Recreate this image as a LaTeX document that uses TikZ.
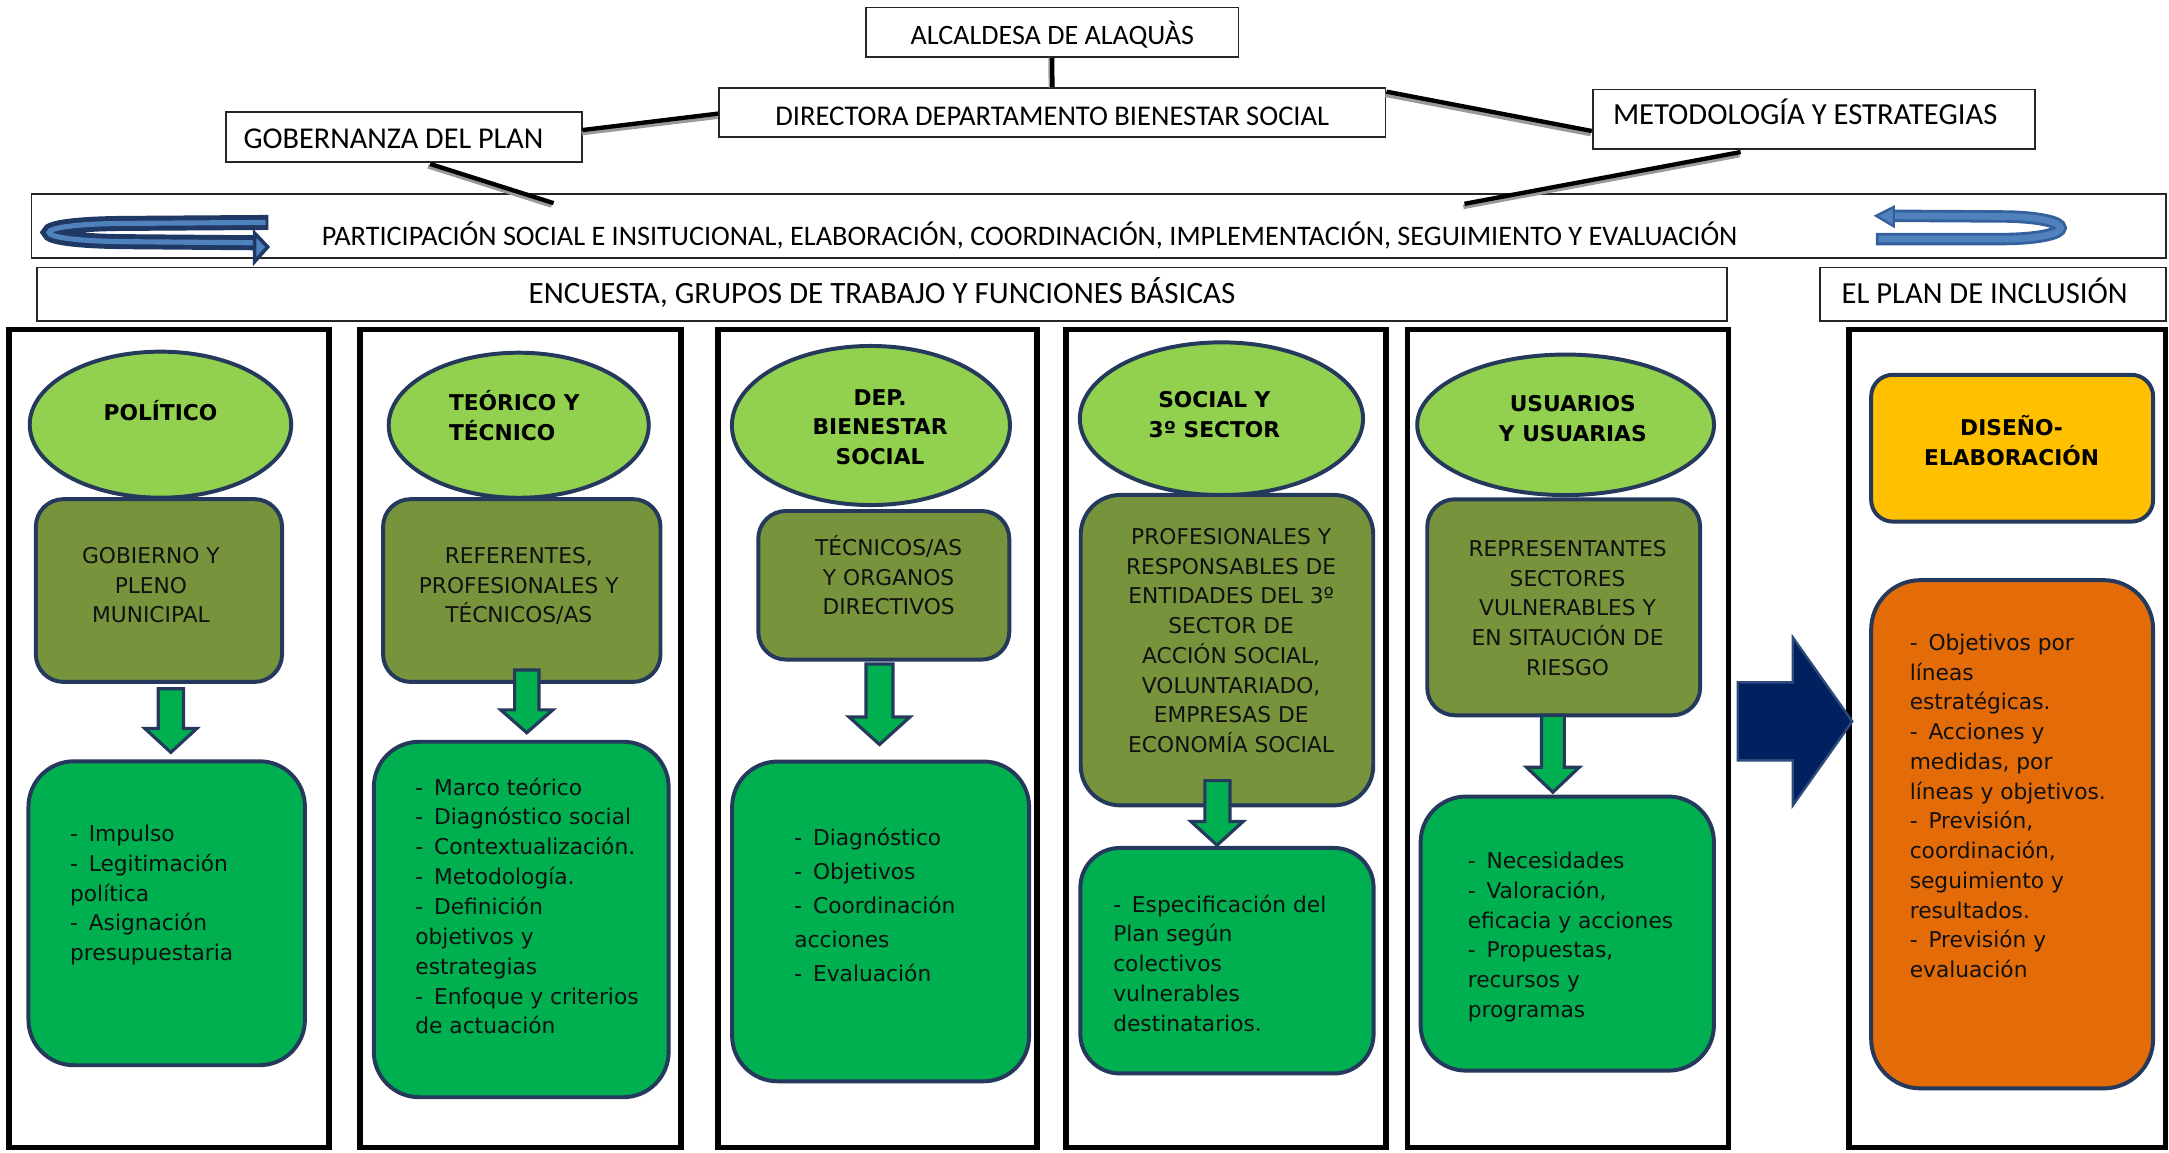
\documentclass[tikz,border=0pt]{standalone}
\usepackage{fontspec}
\setmainfont{Carlito}
\newfontfamily\vfont{DejaVu Sans}
\usetikzlibrary{calc,shapes.geometric}
\definecolor{lgreen}{HTML}{92D050}
\definecolor{olivec}{HTML}{77933C}
\definecolor{bgreen}{HTML}{00B050}
\definecolor{navyb}{HTML}{24395C}
\definecolor{yel}{HTML}{FFC000}
\definecolor{orng}{HTML}{E36C09}
\definecolor{darrc}{HTML}{002060}
\definecolor{darrb}{HTML}{2C4A7A}
\definecolor{ablue}{HTML}{4F81BD}
\definecolor{ablued}{HTML}{1F3864}
\definecolor{abluem}{HTML}{35609E}
\definecolor{txtc}{HTML}{111111}
\newcommand\dd{-\hspace{0.5em}}
\newcommand\fr{\rule{0pt}{11pt}}
\begin{document}
\begin{tikzpicture}[x=0.7pt,y=-0.7pt,
  topbox/.style={draw=black!85,line width=0.9pt,fill=white,inner sep=0pt},
  toptxt/.style={font=\fontsize{14.2}{17}\selectfont,inner sep=0pt,anchor=base,text=black},
  colbox/.style={draw=black,line width=2.9pt,inner sep=0pt},
  ell/.style={ellipse,draw=navyb,fill=lgreen,line width=2pt,inner sep=0pt},
  olbox/.style={rectangle,rounded corners=14pt,draw=navyb,fill=olivec,line width=2pt,inner sep=0pt},
  gbox/.style={rectangle,rounded corners=23pt,draw=navyb,fill=bgreen,line width=2pt,inner sep=0pt},
  btxt/.style={font=\vfont\bfseries\fontsize{11}{15}\selectfont,inner sep=0pt,anchor=north,align=center,text=black},
  otxt/.style={font=\vfont\fontsize{11}{15.05}\selectfont,inner sep=0pt,anchor=north,align=center,text=txtc},
  ltxt/.style={font=\vfont\fontsize{11}{15.1}\selectfont,inner sep=0pt,anchor=north west,align=left,text=txtc},
  conn/.style={line width=2.2pt,draw=black},
  shad/.style={line width=2.2pt,draw=black!40},
  blockdown/.style={draw=navyb,fill=bgreen,line width=1.6pt,line join=miter},
]
\useasboundingbox (0,0) rectangle (1568,833);

% ---------- top boxes ----------
\node[topbox,minimum width=188.5pt,minimum height=25pt] (alc) at (760.6,23.2) {};
\node[toptxt] (alct) at (760.7,32.2) {ALCALDESA DE ALAQUÀS};
\node[topbox,minimum width=337.2pt,minimum height=24.8pt] (dir) at (760.8,81.6) {};
\node[toptxt,font=\fontsize{14.45}{17}\selectfont] (dirt) at (760.7,91) {DIRECTORA DEPARTAMENTO BIENESTAR SOCIAL};
\node[topbox,minimum width=180pt,minimum height=25pt] (gob) at (291.9,99) {};
\node[toptxt,font=\fontsize{15.3}{18}\selectfont] (gobt) at (284.5,107) {GOBERNANZA DEL PLAN};
\node[topbox,minimum width=223.9pt,minimum height=30.2pt] (met) at (1311.3,86.2) {};
\node[toptxt,font=\fontsize{15.5}{18}\selectfont] (mett) at (1305,90.2) {METODOLOGÍA Y ESTRATEGIAS};
\node[topbox,minimum width=1080.2pt,minimum height=32.1pt] (part) at (794.4,163.4) {};
\node[toptxt,font=\fontsize{14.3}{17}\selectfont] (partt) at (744.3,177.6) {PARTICIPACIÓN SOCIAL E INSITUCIONAL, ELABORACIÓN, COORDINACIÓN, IMPLEMENTACIÓN, SEGUIMIENTO Y EVALUACIÓN};
\node[topbox,minimum width=855.3pt,minimum height=27pt] (enc) at (637.8,212.6) {};
\node[toptxt,font=\fontsize{15.7}{18}\selectfont] (enct) at (637.6,219.6) {ENCUESTA, GRUPOS DE TRABAJO Y FUNCIONES BÁSICAS};
\node[topbox,minimum width=175.3pt,minimum height=27pt] (plan) at (1440.8,212.6) {};
\node[toptxt,font=\fontsize{15.5}{18}\selectfont,anchor=base west] (plant) at (1331,219.5) {EL PLAN DE INCLUSIÓN};

% ---------- connectors ----------
\coordinate (a1) at (alc.south);
\coordinate (a2) at (dir.north);
\draw[shad] ($(a1)+(-1.2,0)$) -- ($(a2)+(-1.2,0)$);
\draw[conn] (a1) -- (a2);
\coordinate (b1) at ($(gob.east)+(0,-5)$);
\coordinate (b2) at ($(dir.west)+(0,0.5)$);
\draw[shad] ($(b1)+(-0.5,2.3)$) -- ($(b2)+(-0.5,2.3)$);
\draw[conn] (b1) -- (b2);
\coordinate (c1) at ($(dir.north east)+(0,3)$);
\coordinate (c2) at ($(met.west)+(0,8.5)$);
\draw[shad] ($(c1)+(-0.8,2.3)$) -- ($(c2)+(-0.8,2.3)$);
\draw[conn] (c1) -- (c2);
\coordinate (d1) at ($(gob.south)+(19,1)$);
\coordinate (d2) at ($(part.north west)+(378,7)$);
\draw[shad] ($(d1)+(-1.4,1.8)$) -- ($(d2)+(-1.4,1.8)$);
\draw[conn] (d1) -- (d2);
\coordinate (e1c) at ($(met.south)+(-53,1.5)$);
\coordinate (e2c) at ($(part.north west)+(1036.5,7.5)$);
\draw[shad] ($(e1c)+(-0.8,2.3)$) -- ($(e2c)+(-0.8,2.3)$);
\draw[conn] (e1c) -- (e2c);

% ---------- circular arrows ----------
\draw[ablued,line width=7.6pt] (194,160.8) -- (90,161.5) .. controls (17.3,162) and (17.3,174) .. (90,174.7) -- (184,175.5);
\draw[ablue,line width=2.6pt] (192,160.8) -- (90,161.5) .. controls (17.3,162) and (17.3,174) .. (90,174.7) -- (184,175.5);
\filldraw[fill=ablue,draw=ablued,line width=1.8pt,line join=miter] (184,168.5) -- (193.5,178.5) -- (184,189.2) -- cycle;

\draw[abluem,line width=6.3pt] (1368,156) -- (1450,156.5) .. controls (1502.7,157.5) and (1502.7,172) .. (1450,172.8) -- (1356,172.8);
\draw[ablue,line width=3.4pt] (1368,156) -- (1450,156.5) .. controls (1502.7,157.5) and (1502.7,172) .. (1450,172.8) -- (1358,172.8);
\filldraw[fill=ablue,draw=abluem,line width=1.2pt,line join=miter] (1369,149.6) -- (1356.3,156) -- (1369,163.6) -- cycle;

% ---------- columns ----------
\node[colbox,minimum width=162pt,minimum height=414pt] (col1) at (122.3,533.9) {};
\node[colbox,minimum width=162.5pt,minimum height=414pt] (col2) at (376.4,533.9) {};
\node[colbox,minimum width=161.3pt,minimum height=414pt] (col3) at (634.5,533.9) {};
\node[colbox,minimum width=161.8pt,minimum height=414pt] (col4) at (886.4,533.9) {};
\node[colbox,minimum width=162.5pt,minimum height=414pt] (col5) at (1133.5,533.9) {};
\node[colbox,minimum width=160.2pt,minimum height=414pt] (col6) at (1451.1,533.9) {};

% ---------- ellipses ----------
\node[ell,minimum width=132.3pt,minimum height=73.9pt] (el1) at (116,307) {};
\node[btxt] (el1t) at (116,287.7) {\fr POLÍTICO};
\node[ell,minimum width=131.6pt,minimum height=73.4pt] (el2) at (375,307.4) {};
\node[btxt,anchor=north west,align=left] (el2t) at (324.3,280.7) {\fr TEÓRICO Y\\TÉCNICO};
\node[ell,minimum width=140.7pt,minimum height=80.5pt] (el3) at (629.6,307.6) {};
\node[btxt] (el3t) at (636.2,276.8) {\fr DEP.\\BIENESTAR\\SOCIAL};
\node[ell,minimum width=143.3pt,minimum height=77.3pt] (el4) at (883,302.7) {};
\node[btxt] (el4t) at (877.9,278.9) {\fr SOCIAL Y\\3º SECTOR};
\node[ell,minimum width=150.2pt,minimum height=71.1pt] (el5) at (1131.8,307.1) {};
\node[btxt] (el5t) at (1137,281.6) {\fr USUARIOS\\Y USUARIAS};

% ---------- olive boxes ----------
\node[olbox,minimum width=124.6pt,minimum height=92.5pt] (ol1) at (114.9,426.9) {};
\node[otxt] (ol1t) at (109.1,391.2) {\fr GOBIERNO Y\\PLENO\\MUNICIPAL};
\node[olbox,minimum width=140.4pt,minimum height=92.5pt] (ol2) at (377.2,426.9) {};
\node[otxt] (ol2t) at (375,391.2) {\fr REFERENTES,\\PROFESIONALES Y\\TÉCNICOS/AS};
\node[olbox,minimum width=127pt,minimum height=75.2pt] (ol3) at (638.9,423.1) {};
\node[otxt] (ol3t) at (642.4,385.5) {\fr TÉCNICOS/AS\\Y ORGANOS\\DIRECTIVOS};
\node[olbox,rounded corners=20pt,minimum width=148pt,minimum height=157.1pt] (ol4) at (887,470) {};
\node[otxt] (ol4t) at (890,377.5) {\fr PROFESIONALES Y\\RESPONSABLES DE\\ENTIDADES DEL 3º\\SECTOR DE\\ACCIÓN SOCIAL,\\VOLUNTARIADO,\\EMPRESAS DE\\ECONOMÍA SOCIAL};
\node[olbox,minimum width=138.1pt,minimum height=109.3pt] (ol5) at (1130.4,439) {};
\node[otxt] (ol5t) at (1133.2,386.3) {\fr REPRESENTANTES\\SECTORES\\VULNERABLES Y\\EN SITAUCIÓN DE\\RIESGO};

% ---------- down arrows ----------
\draw[blockdown] (114.4,497.9) -- (132.6,497.9) -- (132.6,526.6) -- (142.3,526.6) -- (123.5,543.9) -- (104.7,526.6) -- (114.4,526.6) -- cycle;
\draw[blockdown] (372,484.4) -- (389.6,484.4) -- (389.6,513.2) -- (399.6,513.2) -- (380.8,529.7) -- (362,513.2) -- (372,513.2) -- cycle;
\draw[blockdown] (626,480) -- (645.6,480) -- (645.6,518.3) -- (657.8,518.3) -- (635.8,538.2) -- (613.8,518.3) -- (626,518.3) -- cycle;
\draw[blockdown] (871,564.3) -- (889.2,564.3) -- (889.2,593.9) -- (898.6,593.9) -- (879.8,611) -- (861,593.9) -- (871,593.9) -- cycle;
\draw[blockdown] (1114.3,517) -- (1130.9,517) -- (1130.9,554.7) -- (1141.6,554.7) -- (1122.6,572.7) -- (1103.6,554.7) -- (1114.3,554.7) -- cycle;

% ---------- green boxes ----------
\node[gbox,minimum width=139.9pt,minimum height=153.8pt] (gr1) at (120.5,660.2) {};
\node[ltxt] (gr1t) at (50.4,592.2) {\fr\dd Impulso\\\dd Legitimación\\política\\\dd Asignación\\presupuestaria};
\node[gbox,minimum width=149.2pt,minimum height=179.9pt] (gr2) at (376.8,664.7) {};
\node[ltxt] (gr2t) at (300,558.8) {\fr\dd Marco teórico\\\dd Diagnóstico social\\\dd Contextualización.\\\dd Metodología.\\\dd Definición\\objetivos y\\estrategias\\\dd Enfoque y criterios\\de actuación};
\node[gbox,minimum width=150.3pt,minimum height=161.8pt] (gr3) at (636.6,666.1) {};
\node[ltxt,font=\vfont\fontsize{11}{17.15}\selectfont] (gr3t) at (574,595.3) {\fr\dd Diagnóstico\\\dd Objetivos\\\dd Coordinación\\acciones\\\dd Evaluación};
\node[gbox,rounded corners=20pt,minimum width=148.4pt,minimum height=114.1pt] (gr4) at (887,694.5) {};
\node[ltxt] (gr4t) at (804.5,643.3) {\fr\dd Especificación del\\Plan según\\colectivos\\vulnerables\\destinatarios.};
\node[gbox,minimum width=148.4pt,minimum height=138.7pt] (gr5) at (1133,674.9) {};
\node[ltxt] (gr5t) at (1060.8,611.8) {\fr\dd Necesidades\\\dd Valoración,\\eficacia y acciones\\\dd Propuestas,\\recursos y\\programas};

% ---------- big arrow ----------
\draw[fill=darrc,draw=darrb,line width=1.2pt,line join=miter] (1256.2,493.3) -- (1296,493.3) -- (1296,460.7) -- (1339,521.5) -- (1296,582.3) -- (1296,549.7) -- (1256.2,549.7) -- cycle;

% ---------- right column ----------
\node[rectangle,rounded corners=11pt,draw=navyb,fill=yel,line width=2pt,inner sep=0pt,minimum width=142.7pt,minimum height=74.3pt] (yb) at (1454.6,324) {};
\node[btxt] (ybt) at (1454.2,299) {\fr DISEÑO-\\ELABORACIÓN};
\node[rectangle,rounded corners=25pt,draw=navyb,fill=orng,line width=2pt,inner sep=0pt,minimum width=142.7pt,minimum height=257.2pt] (ob) at (1454.6,603.1) {};
\node[ltxt,font=\vfont\fontsize{11}{15.05}\selectfont] (obt) at (1380.3,454.2) {\fr\dd Objetivos por\\líneas\\estratégicas.\\\dd Acciones y\\medidas, por\\líneas y objetivos.\\\dd Previsión,\\coordinación,\\seguimiento y\\resultados.\\\dd Previsión y\\evaluación};
\end{tikzpicture}
\end{document}
